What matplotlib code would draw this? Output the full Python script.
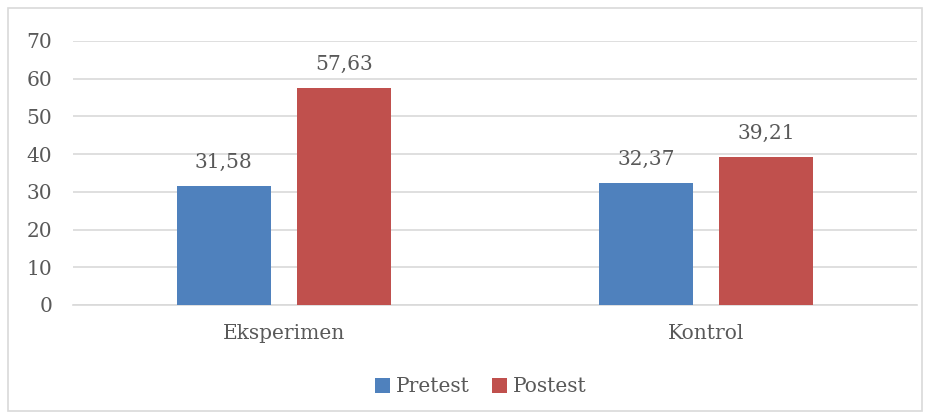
import matplotlib.pyplot as plt
import numpy as np
from matplotlib.patches import Rectangle

# Data
categories = ['Eksperimen', 'Kontrol']
pretest = [31.58, 32.37]
postest = [57.63, 39.21]
series_names = ['Pretest', 'Postest']
yticks = [0, 10, 20, 30, 40, 50, 60, 70]

BLUE = '#4F81BD'
RED = '#C0504D'
TEXT = '#595959'
GRID = '#D9D9D9'
FS = 14.5

plt.rcParams['font.family'] = ['DejaVu Serif']

fig = plt.figure(figsize=(9.31, 4.16), dpi=100)
ax = fig.add_axes([73 / 931, 1 - 305 / 416, 844 / 931, 264 / 416])

# outer chart border
fig.patches.append(Rectangle((8 / 931, 5 / 416), 914 / 931, 403 / 416,
                             transform=fig.transFigure, fill=False,
                             edgecolor=GRID, linewidth=1.2))

x = np.arange(len(categories))
width = 0.223
off = 0.1425

b1 = ax.bar(x - off, pretest, width, color=BLUE, label=series_names[0], zorder=3)
b2 = ax.bar(x + off, postest, width, color=RED, label=series_names[1], zorder=3)

for bars, vals in ((b1, pretest), (b2, postest)):
    for rect, v in zip(bars, vals):
        ax.annotate(f'{v:.2f}'.replace('.', ','),
                    (rect.get_x() + rect.get_width() / 2, v),
                    xytext=(0, 10), textcoords='offset points',
                    ha='center', va='bottom', fontsize=FS, color=TEXT)

ax.set_xlim(-0.5, 1.5)
ax.set_ylim(0, 70)
ax.set_yticks(yticks)
ax.set_yticklabels([str(t) for t in yticks])
ax.set_xticks(x)
ax.set_xticklabels(categories)
ax.tick_params(axis='y', length=0, pad=15, labelsize=FS, labelcolor=TEXT)
ax.tick_params(axis='x', length=0, pad=14, labelsize=FS, labelcolor=TEXT)

ax.grid(axis='y', color=GRID, linewidth=1.2, zorder=0)
for s in ('top', 'right', 'left'):
    ax.spines[s].set_visible(False)
ax.spines['bottom'].set_color(GRID)
ax.spines['bottom'].set_linewidth(1.2)

fig.legend(loc='center', bbox_to_anchor=(481 / 931, 1 - 387 / 416),
           ncol=2, frameon=False, fontsize=FS, handlelength=0.75,
           handleheight=0.75, handletextpad=0.3, columnspacing=1.1,
           labelcolor=TEXT)

fig.savefig('out.png', dpi=100)
